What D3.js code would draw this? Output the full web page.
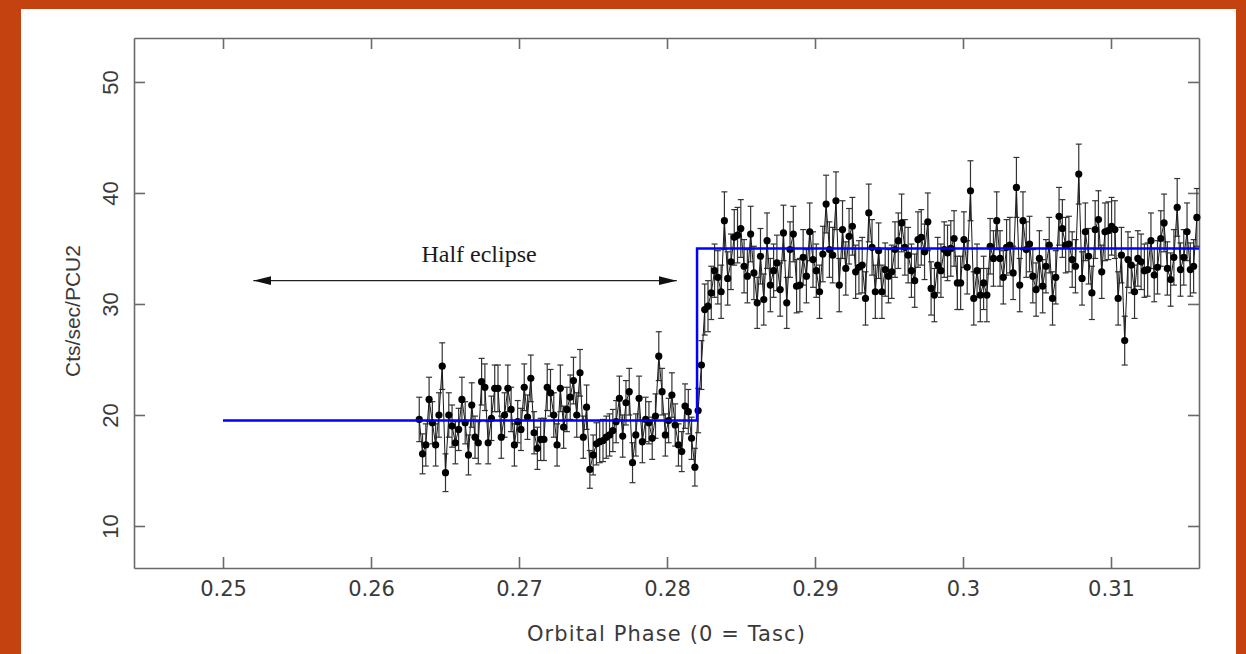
<!DOCTYPE html>
<html>
<head>
<meta charset="utf-8">
<script src="https://cdn.jsdelivr.net/npm/d3@7"></script>
<style>
  body { margin: 0; background: #c4420f; }
  svg { display: block; }
</style>
</head>
<body>
<script>
// Light curve near eclipse egress: count rate per time bin, with 1-sigma errors
const phaseStart = 0.26326;   // phase of the first bin
const phaseBin = 0.0002217;   // bin width in phase

const rates = [
  19.6,16.5,17.3,21.4,19.3,17.3,20.0,24.4,14.8,20.0,
  19.0,17.5,18.7,21.4,19.3,16.4,20.9,18.0,17.5,23.0,
  22.5,17.5,19.7,22.4,22.4,18.0,20.0,22.4,20.5,17.3,
  19.4,18.7,22.5,19.8,23.3,18.4,17.0,17.8,17.8,22.5,
  22.0,20.0,17.3,22.4,18.9,20.5,21.6,23.1,20.0,23.8,
  18.0,20.7,15.1,16.4,17.4,17.6,17.7,18.0,18.2,18.6,
  19.4,21.5,18.1,21.1,22.1,15.7,18.2,21.5,17.6,19.6,
  19.3,17.9,19.9,25.3,22.1,18.2,19.5,21.8,19.1,17.3,
  16.7,20.8,20.3,17.9,15.3,20.4,24.5,29.5,29.8,31.0,
  33.0,32.4,31.1,37.5,32.3,33.8,36.0,36.2,36.8,33.4,
  32.5,36.3,32.8,30.1,34.3,30.4,35.7,31.7,33.0,33.7,
  31.3,36.4,30.1,34.9,36.3,31.6,31.7,34.2,32.5,36.5,
  34.0,33.0,31.1,34.5,39.0,34.9,34.4,39.3,31.7,36.7,
  33.2,36.1,37.0,32.9,33.3,33.5,30.5,38.2,35.1,31.1,
  34.8,31.1,33.1,32.5,32.9,34.9,35.7,37.3,35.1,34.4,
  33.0,32.1,35.8,36.0,34.7,37.4,31.4,30.8,33.5,33.0,
  34.9,34.6,35.0,35.9,31.9,31.9,35.8,33.3,40.2,30.5,
  33.0,30.8,31.9,30.8,35.2,34.1,37.5,34.1,32.4,35.1,
  35.3,32.8,40.5,31.7,37.5,34.9,35.4,32.5,31.3,34.1,
  31.6,33.4,35.3,30.5,32.4,37.9,36.8,35.3,35.4,34.0,
  33.4,41.7,32.3,36.5,34.3,31.0,36.7,37.6,32.9,36.5,
  36.6,37.0,36.7,30.5,34.4,26.7,34.0,33.5,31.1,34.1,
  33.8,33.0,33.1,35.7,32.6,33.3,35.9,37.3,33.2,32.2,
  34.2,38.7,33.1,34.2,36.5,33.1,33.4,37.8
];

const errors = [
  2.0,1.8,1.9,2.0,1.9,1.9,2.0,2.1,1.7,2.0,
  1.9,1.9,1.9,2.0,1.9,1.8,2.0,1.9,1.9,2.1,
  2.1,1.9,2.0,2.1,2.1,1.9,2.0,2.1,2.0,1.9,
  1.9,1.9,2.1,2.0,2.1,1.9,1.9,1.9,1.9,2.1,
  2.1,2.0,1.9,2.1,1.9,2.0,2.0,2.1,2.0,2.1,
  1.9,2.0,1.7,1.8,1.9,1.9,1.9,1.9,1.9,1.9,
  1.9,2.0,1.9,2.0,2.1,1.8,1.9,2.0,1.9,2.0,
  1.9,1.9,2.0,2.2,2.1,1.9,2.0,2.0,1.9,1.9,
  1.8,2.0,2.0,1.9,1.7,2.0,2.2,2.3,2.3,2.4,
  2.4,2.4,2.4,2.6,2.4,2.5,2.5,2.5,2.6,2.4,
  2.4,2.5,2.4,2.3,2.5,2.3,2.5,2.4,2.4,2.5,
  2.4,2.5,2.3,2.5,2.5,2.4,2.4,2.5,2.4,2.6,
  2.5,2.4,2.4,2.5,2.6,2.5,2.5,2.6,2.4,2.6,
  2.4,2.5,2.6,2.4,2.4,2.5,2.4,2.6,2.5,2.4,
  2.5,2.4,2.4,2.4,2.4,2.5,2.5,2.6,2.5,2.5,
  2.4,2.4,2.5,2.5,2.5,2.6,2.4,2.4,2.5,2.4,
  2.5,2.5,2.5,2.5,2.4,2.4,2.5,2.4,2.7,2.4,
  2.4,2.4,2.4,2.4,2.5,2.5,2.6,2.5,2.4,2.5,
  2.5,2.4,2.7,2.4,2.6,2.5,2.5,2.4,2.4,2.5,
  2.4,2.4,2.5,2.4,2.4,2.6,2.6,2.5,2.5,2.5,
  2.4,2.7,2.4,2.6,2.5,2.4,2.6,2.6,2.4,2.6,
  2.6,2.6,2.6,2.4,2.5,2.2,2.5,2.5,2.4,2.5,
  2.5,2.4,2.4,2.5,2.4,2.4,2.5,2.6,2.4,2.4,
  2.5,2.6,2.4,2.5,2.6,2.4,2.4,2.6
];

// step model: out-of-eclipse level after egress
const modelPhase = [0.25, 0.28203, 0.28203, 0.31595];
const modelRate = [19.5, 19.5, 35.0, 35.0];

// annotation arrow (phase from, phase to, rate)
const arrowPhase = [0.25205, 0.28066];
const arrowRate = 32.1;
const arrowLabel = 'Half eclipse';

const xTicks = [0.25, 0.26, 0.27, 0.28, 0.29, 0.3, 0.31];
const yTicks = [10, 20, 30, 40, 50];

const width = 1246;
const height = 654;
const plot = { left: 134, right: 1199, top: 38, bottom: 568 };

const points = rates.map((r, i) => ({ phase: phaseStart + i * phaseBin, rate: r, err: errors[i] }));

const x = d3.scaleLinear().domain([0.243986, 0.315946]).range([plot.left, plot.right]);
const y = d3.scaleLinear().domain([6.216, 53.96]).range([plot.bottom, plot.top]);

const svg = d3.select('body').append('svg')
  .attr('width', width)
  .attr('height', height);

// white card on the orange page
svg.append('rect')
  .attr('x', 21).attr('y', 9)
  .attr('width', 1215).attr('height', height - 9)
  .attr('fill', '#ffffff');

const axisColor = '#6a6a6a';

function styleAxis(g) {
  g.attr('font-size', null).attr('font-family', null);
  g.select('.domain').attr('stroke', axisColor).attr('stroke-width', 1.6);
  g.selectAll('.tick line').attr('stroke', axisColor).attr('stroke-width', 1.6);
}

// bottom axis, ticks pointing inward
svg.append('g')
  .attr('transform', `translate(0,${plot.bottom})`)
  .call(d3.axisBottom(x).tickValues(xTicks).tickFormat(d => String(d))
    .tickSizeInner(-11).tickSizeOuter(0).tickPadding(13))
  .call(styleAxis)
  .selectAll('text')
  .attr('fill', '#3a3a3a')
  .style('font-family', '"DejaVu Sans", sans-serif')
  .style('font-size', '21px');

svg.append('g')
  .attr('transform', `translate(0,${plot.top})`)
  .call(d3.axisTop(x).tickValues(xTicks).tickFormat('')
    .tickSizeInner(-11).tickSizeOuter(0))
  .call(styleAxis);

// left axis with rotated labels
svg.append('g')
  .attr('transform', `translate(${plot.left},0)`)
  .call(d3.axisLeft(y).tickValues(yTicks)
    .tickSizeInner(-11).tickSizeOuter(0))
  .call(styleAxis)
  .selectAll('text')
  .attr('x', 0)
  .attr('dy', 0)
  .attr('text-anchor', 'middle')
  .attr('transform', 'translate(-16,0) rotate(-90)')
  .attr('fill', '#3a3a3a')
  .style('font-family', '"Liberation Sans", Arial, sans-serif')
  .style('font-size', '22px');

svg.append('g')
  .attr('transform', `translate(${plot.right},0)`)
  .call(d3.axisRight(y).tickValues(yTicks).tickFormat('')
    .tickSizeInner(-11).tickSizeOuter(0))
  .call(styleAxis);

// axis titles
svg.append('text')
  .attr('x', (plot.left + plot.right) / 2)
  .attr('y', 641)
  .attr('text-anchor', 'middle')
  .attr('fill', '#3a3a3a')
  .style('font-family', '"DejaVu Sans", sans-serif')
  .style('font-size', '21px')
  .style('letter-spacing', '1.1px')
  .text('Orbital Phase (0 = Tasc)');

svg.append('text')
  .attr('transform', `translate(80,${(plot.top + plot.bottom) / 2 + 8}) rotate(-90)`)
  .attr('text-anchor', 'middle')
  .attr('fill', '#3a3a3a')
  .style('font-family', '"Liberation Sans", Arial, sans-serif')
  .style('font-size', '21px')
  .text('Cts/sec/PCU2');

const data = svg.append('g');

// error bars with small caps
const bars = data.selectAll('.err')
  .data(points)
  .enter()
  .append('g')
  .attr('class', 'err')
  .attr('stroke', '#333')
  .attr('stroke-width', 1.2);

bars.append('line')
  .attr('x1', d => x(d.phase)).attr('x2', d => x(d.phase))
  .attr('y1', d => y(d.rate - d.err)).attr('y2', d => y(d.rate + d.err));

bars.append('line')
  .attr('x1', d => x(d.phase) - 3).attr('x2', d => x(d.phase) + 3)
  .attr('y1', d => y(d.rate + d.err)).attr('y2', d => y(d.rate + d.err));

bars.append('line')
  .attr('x1', d => x(d.phase) - 3).attr('x2', d => x(d.phase) + 3)
  .attr('y1', d => y(d.rate - d.err)).attr('y2', d => y(d.rate - d.err));

// thin line joining the points
data.append('path')
  .datum(points)
  .attr('fill', 'none')
  .attr('stroke', '#1a1a1a')
  .attr('stroke-width', 1)
  .attr('d', d3.line().x(d => x(d.phase)).y(d => y(d.rate)));

data.selectAll('circle')
  .data(points)
  .enter()
  .append('circle')
  .attr('cx', d => x(d.phase))
  .attr('cy', d => y(d.rate))
  .attr('r', 3.6)
  .attr('fill', '#000');

// model step
svg.append('path')
  .datum(modelPhase.map((p, i) => [p, modelRate[i]]))
  .attr('fill', 'none')
  .attr('stroke', '#0000ff')
  .attr('stroke-width', 2.5)
  .attr('d', d3.line().x(d => x(d[0])).y(d => y(d[1])));

// double arrow + label
svg.append('defs').append('marker')
  .attr('id', 'head')
  .attr('markerUnits', 'userSpaceOnUse')
  .attr('markerWidth', 18).attr('markerHeight', 10)
  .attr('refX', 18).attr('refY', 5)
  .attr('orient', 'auto-start-reverse')
  .append('path')
  .attr('d', 'M0,0.5L18,5L0,9.5Z')
  .attr('fill', '#111');

svg.append('line')
  .attr('x1', x(arrowPhase[0])).attr('x2', x(arrowPhase[1]))
  .attr('y1', y(arrowRate)).attr('y2', y(arrowRate))
  .attr('stroke', '#222')
  .attr('stroke-width', 1.4)
  .attr('marker-start', 'url(#head)')
  .attr('marker-end', 'url(#head)');

svg.append('text')
  .attr('x', x((arrowPhase[0] + arrowPhase[1]) / 2) + 14)
  .attr('y', y(arrowRate) - 19)
  .attr('text-anchor', 'middle')
  .attr('fill', '#1a1a1a')
  .style('font-family', '"Liberation Serif", "Times New Roman", serif')
  .style('font-size', '24px')
  .text(arrowLabel);
</script>
</body>
</html>
